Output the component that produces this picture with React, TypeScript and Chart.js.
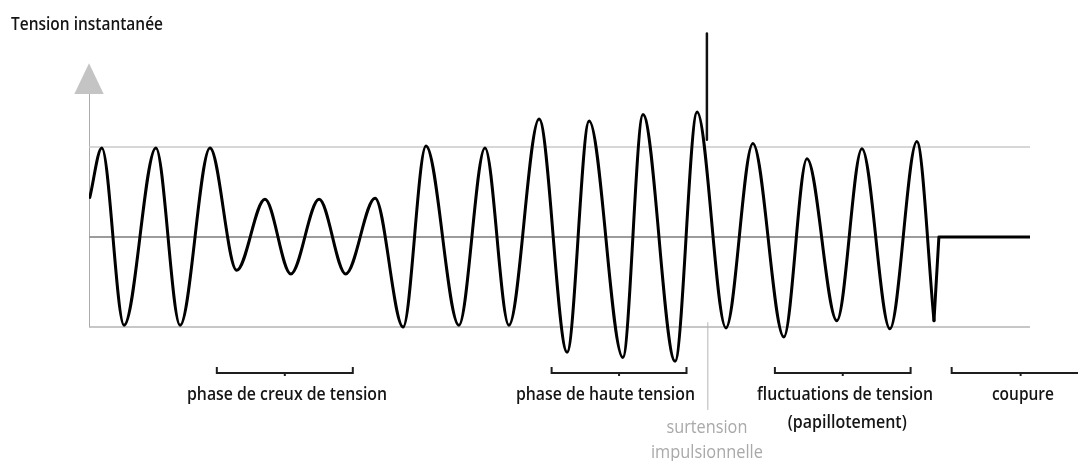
import { useEffect, useRef } from 'react';
import { Chart, registerables } from 'chart.js';

Chart.register(...registerables);

// ---------- data (time in ms, instantaneous voltage in per-unit of nominal peak) ----------
// successive crests and troughs of the voltage wave
const WAVE_TIME_MS = [
  0.3, 4.7, 12.9, 24.6, 33.5, 44.5, 54.3, 64.7, 74.2, 84.6, 94.4, 105.2, 115.5, 123.9, 136.0,
  145.6, 154.4, 165.5, 175.8, 183.9, 196.3, 203.7, 215.5, 223.6, 234.2, 244.1, 255.5, 264.0,
  275.0, 284.2, 294.5, 304.4, 310.7,
];
const WAVE_VOLTAGE = [
  0.44, 0.99, -0.98, 0.99, -0.98, 0.99, -0.37, 0.42, -0.41, 0.42, -0.41, 0.43, -1.0, 1.01, -0.98,
  0.99, -0.98, 1.31, -1.28, 1.29, -1.34, 1.36, -1.38, 1.39, -1.01, 1.04, -1.11, 0.87,
  -0.93, 0.98, -1.02, 1.06, -0.93,
];
const CUTOFF_TIME_MS = [310.7, 312.5, 346];
const CUTOFF_VOLTAGE = [-0.93, 0, 0];

const SPIKE_TIME_MS = 227.2;
const SPIKE_VOLTAGE = [1.08, 2.26];

const NOMINAL_LEVELS = [1, 0, -1];
const X_MAX_MS = 346;
const Y_MIN = -2.4;
const Y_MAX = 2.4;
const AXIS_TOP = 1.59;
const ARROW_TIP = 1.93;

const TITLE = 'Tension instantanée';
const PHASE_LABELS = ['phase de creux de tension', 'phase de haute tension', 'fluctuations de tension', 'coupure'];
const PHASE_START_MS = [47.0, 170.1, 252.2, 317.2];
const PHASE_END_MS = [97.0, 219.7, 302.1, 367.9];
const PHASE_LABEL_CENTER_MS = [72.8, 189.9, 278.0, 343.4];
const FLICKER_SUBLABEL = '(papillotement)';
const FLICKER_SUBLABEL_CENTER_MS = 278.8;
const SURGE_LABELS = ['surtension', 'impulsionnelle'];
const SURGE_TIME_MS = 227.5;
const SURGE_LEADER_VOLTAGE = [-0.95, -1.92];

// ---------- styles / layout ----------
const FONT = '600 18px "Open Sans", "Noto Sans", sans-serif';
const GREY_FONT = '18px "Open Sans", "Noto Sans", sans-serif';
const TEXT_COLOR = '#151515';
const GREY_TEXT = '#a9a9a9';
const PHASE_LABEL_WIDTHS = [200, 179, 176, 62];
const FLICKER_SUBLABEL_WIDTH = 119;
const SURGE_LABEL_WIDTHS = [81, 112];
const TITLE_WIDTH = 152;
const LEVEL_COLORS = ['#cacaca', '#9c9c9c', '#b4b4b4'];
const LEVEL_WIDTHS = [1.5, 2, 1.5];

function fittedText(
  ctx: CanvasRenderingContext2D,
  text: string,
  x: number,
  y: number,
  width: number,
  align: CanvasTextAlign,
) {
  const w = ctx.measureText(text).width || 1;
  ctx.save();
  ctx.translate(x, y);
  ctx.scale(width / w, 1);
  ctx.textAlign = align;
  ctx.fillText(text, 0, 0);
  ctx.restore();
}

const annotations = {
  id: 'voltageAnnotations',
  afterDatasetsDraw(chart: any) {
    const { ctx } = chart;
    const xs = chart.scales.x;
    const ys = chart.scales.y;
    const axisX = xs.getPixelForValue(0);
    const tipY = ys.getPixelForValue(ARROW_TIP);
    const baseY = ys.getPixelForValue(AXIS_TOP);
    const bottomY = ys.getPixelForValue(-1);

    ctx.save();
    // axis arrow head
    ctx.fillStyle = '#c4c4c4';
    ctx.beginPath();
    ctx.moveTo(axisX, tipY);
    ctx.lineTo(axisX - 14.7, baseY);
    ctx.lineTo(axisX + 14.7, baseY);
    ctx.closePath();
    ctx.fill();

    // brackets
    const by = bottomY + 46;
    ctx.strokeStyle = '#1e1e1e';
    ctx.lineWidth = 2;
    PHASE_START_MS.forEach((s, i) => {
      const x0 = xs.getPixelForValue(s);
      const x1 = xs.getPixelForValue(PHASE_END_MS[i]);
      const xm = (x0 + x1) / 2;
      ctx.beginPath();
      ctx.moveTo(x0, by - 6);
      ctx.lineTo(x0, by);
      ctx.lineTo(x1, by);
      ctx.lineTo(x1, by - 6);
      ctx.moveTo(xm, by);
      ctx.lineTo(xm, by + 3);
      ctx.stroke();
    });

    // texts
    ctx.font = FONT;
    ctx.textBaseline = 'alphabetic';
    ctx.fillStyle = TEXT_COLOR;
    fittedText(ctx, TITLE, axisX - 78, tipY - 33, TITLE_WIDTH, 'left');
    PHASE_LABELS.forEach((t, i) => {
      fittedText(ctx, t, xs.getPixelForValue(PHASE_LABEL_CENTER_MS[i]), bottomY + 73, PHASE_LABEL_WIDTHS[i], 'center');
    });
    fittedText(ctx, FLICKER_SUBLABEL, xs.getPixelForValue(FLICKER_SUBLABEL_CENTER_MS), bottomY + 101, FLICKER_SUBLABEL_WIDTH, 'center');
    ctx.font = GREY_FONT;
    ctx.fillStyle = GREY_TEXT;
    SURGE_LABELS.forEach((t, i) => {
      fittedText(ctx, t, xs.getPixelForValue(SURGE_TIME_MS - 0.3), bottomY + 106 + i * 25, SURGE_LABEL_WIDTHS[i], 'center');
    });
    ctx.restore();
  },
};

const pts = (t: number[], v: number[]) => t.map((x, i) => ({ x, y: v[i] }));

export default function App() {
  const ref = useRef<HTMLCanvasElement | null>(null);

  useEffect(() => {
    if (!ref.current) return;
    const lineBase = { pointRadius: 0, pointHoverRadius: 0, fill: false, borderCapStyle: 'round', borderJoinStyle: 'round' };
    const chart = new Chart(ref.current, {
      type: 'line',
      data: {
        datasets: [
          { ...lineBase, label: 'tension', data: pts(WAVE_TIME_MS, WAVE_VOLTAGE), borderColor: '#000', borderWidth: 3, cubicInterpolationMode: 'monotone' },
          { ...lineBase, label: 'coupure', data: pts(CUTOFF_TIME_MS, CUTOFF_VOLTAGE), borderColor: '#000', borderWidth: 3, tension: 0 },
          { ...lineBase, label: 'surtension', data: pts([SPIKE_TIME_MS, SPIKE_TIME_MS], SPIKE_VOLTAGE), borderColor: '#111', borderWidth: 2.5, tension: 0 },
          ...NOMINAL_LEVELS.map((lv, i) => ({
            ...lineBase,
            label: `niveau ${lv}`,
            data: pts([0, X_MAX_MS], [lv, lv]),
            borderColor: LEVEL_COLORS[i],
            borderWidth: LEVEL_WIDTHS[i],
            borderCapStyle: 'butt',
            tension: 0,
          })),
          { ...lineBase, label: 'axe', data: pts([0, 0], [-1, AXIS_TOP]), borderColor: '#ababab', borderWidth: 2, borderCapStyle: 'butt', tension: 0 },
          { ...lineBase, label: 'repère', data: pts([SURGE_TIME_MS, SURGE_TIME_MS], SURGE_LEADER_VOLTAGE), borderColor: '#cfcfcf', borderWidth: 1, borderCapStyle: 'butt', tension: 0, clip: false },
        ] as any,
      },
      options: {
        animation: false,
        responsive: false,
        events: [],
        layout: { padding: { left: 89, right: 48, top: 21, bottom: 8 } },
        scales: {
          x: { type: 'linear', min: 0, max: X_MAX_MS, display: false },
          y: { type: 'linear', min: Y_MIN, max: Y_MAX, display: false },
        },
        plugins: { legend: { display: false }, tooltip: { enabled: false }, title: { display: false } },
      },
      plugins: [annotations],
    });
    return () => chart.destroy();
  }, []);

  return (
    <div style={{ position: 'fixed', left: 0, top: 0, width: 1078, height: 461, background: '#fff' }}>
      <canvas ref={ref} width={1078} height={461} style={{ display: 'block' }} />
    </div>
  );
}
